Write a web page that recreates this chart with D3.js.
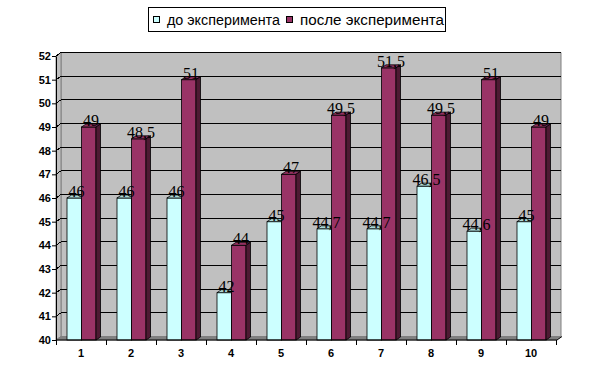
<!DOCTYPE html>
<html lang="ru">
<head>
<meta charset="utf-8">
<title>до / после эксперимента</title>
<script src="https://d3js.org/d3.v7.min.js"></script>
<style>
	body { margin: 0; padding: 0; background: #fff; }
	.tick-label { font-family: "Liberation Sans", Arial, sans-serif; font-weight: bold; font-size: 11px; fill: #000; }
	.val { font-family: "Liberation Serif", "Times New Roman", serif; font-size: 16px; fill: #000; }
	.legend-text { font-family: "Liberation Sans", Arial, sans-serif; font-size: 14px; fill: #000; }
</style>
</head>
<body>
<div id="chart"></div>
<script>
	// data
	var categories = ["1", "2", "3", "4", "5", "6", "7", "8", "9", "10"];
	var before = [46, 46, 46, 42, 45, 44.7, 44.7, 46.5, 44.6, 45];
	var after = [49, 48.5, 51, 44, 47, 49.5, 51.5, 49.5, 51, 49];
	var seriesNames = ["до эксперимента", "после эксперимента"];
	var yTicks = [40, 41, 42, 43, 44, 45, 46, 47, 48, 49, 50, 51, 52];

	// colors
	var colFront = ["#ccffff", "#993366"];
	var colTop = ["#a8d8d8", "#933163"];
	var colSide = ["#6a8c8c", "#4d1a33"];

	var W = 595, H = 384;
	var wallDx = 5, wallDy = -3.5;   // depth of the walls
	var barDx = 4.5, barDy = -3;     // depth of the bars

	var svg = d3.select("#chart").append("svg").attr("width", W).attr("height", H);

	var x = d3.scaleBand().domain(categories).range([56, 556]);
	var xs = d3.scaleBand().domain([0, 1]).range([11, 40]);
	var y = d3.scaleLinear().domain([40, 52]).range([340, 56]);

	var fmt = function (v) { return String(v).replace(".", ","); };

	// back wall
	var x0 = 56, x1 = 556, yb = y(40), yt = y(52);
	svg.append("polygon")
		.attr("points", [[x0 + wallDx, yt + wallDy], [x1 + wallDx, yt + wallDy], [x1 + wallDx, yb + wallDy], [x0 + wallDx, yb + wallDy]].join(" "))
		.attr("fill", "#c0c0c0").attr("stroke", "#808080");
	// side wall
	svg.append("polygon")
		.attr("points", [[x0, yt], [x0 + wallDx, yt + wallDy], [x0 + wallDx, yb + wallDy], [x0, yb]].join(" "))
		.attr("fill", "#c0c0c0").attr("stroke", "#808080");
	// floor
	svg.append("polygon")
		.attr("points", [[x0, yb], [x0 + wallDx, yb + wallDy], [x1 + wallDx, yb + wallDy], [x1, yb]].join(" "))
		.attr("fill", "#808080").attr("stroke", "#808080");

	// gridlines
	svg.append("g").selectAll("polyline").data(yTicks.slice(1)).enter().append("polyline")
		.attr("points", function (d) { return [[x0, y(d)], [x0 + wallDx, y(d) + wallDy], [x1 + wallDx, y(d) + wallDy]].join(" "); })
		.attr("fill", "none").attr("stroke", "#000").attr("stroke-width", 1).attr("shape-rendering", "crispEdges");

	// bars
	function bar(g, bx, bw, v, s) {
		var top = y(v), bot = y(40);
		g.append("rect").attr("x", bx).attr("y", top).attr("width", bw).attr("height", bot - top)
			.attr("fill", colFront[s]).attr("stroke", "#000").attr("stroke-width", 0.8);
		g.append("polygon")
			.attr("points", [[bx, top], [bx + barDx, top + barDy], [bx + bw + barDx, top + barDy], [bx + bw, top]].join(" "))
			.attr("fill", colTop[s]).attr("stroke", "#000").attr("stroke-width", 0.8);
		g.append("polygon")
			.attr("points", [[bx + bw, top], [bx + bw + barDx, top + barDy], [bx + bw + barDx, bot + barDy], [bx + bw, bot]].join(" "))
			.attr("fill", colSide[s]).attr("stroke", "#000").attr("stroke-width", 0.8);
	}

	var bars = svg.append("g");
	categories.forEach(function (c, i) {
		[before[i], after[i]].forEach(function (v, s) {
			bar(bars, x(c) + xs(s), xs.bandwidth(), v, s);
		});
	});

	// value labels
	var labels = svg.append("g");
	categories.forEach(function (c, i) {
		[before[i], after[i]].forEach(function (v, s) {
			labels.append("text").attr("class", "val")
				.attr("x", x(c) + xs(s) + xs.bandwidth() / 2 + barDx / 2)
				.attr("y", y(v) - 1)
				.attr("text-anchor", "middle")
				.text(fmt(v));
		});
	});

	// y axis
	var yAxis = svg.append("g").attr("transform", "translate(56,0)")
		.call(d3.axisLeft(y).tickValues(yTicks).tickSize(4).tickSizeOuter(0).tickPadding(1));
	yAxis.select(".domain").attr("stroke", "#000");
	yAxis.selectAll("text").attr("class", "tick-label").attr("font-size", null).attr("font-family", null);

	// x axis
	var xg = svg.append("g");
	xg.append("line").attr("x1", x0).attr("x2", x1 + 1).attr("y1", yb).attr("y2", yb).attr("stroke", "#000");
	xg.append("line").attr("x1", x1 + 1).attr("x2", x1 + wallDx + 1).attr("y1", yb).attr("y2", yb + wallDy).attr("stroke", "#000");
	xg.selectAll(".xt").data(categories.concat([null])).enter().append("line")
		.attr("x1", function (d) { return d === null ? x1 : x(d); })
		.attr("x2", function (d) { return d === null ? x1 : x(d); })
		.attr("y1", yb).attr("y2", yb + 5).attr("stroke", "#000").attr("shape-rendering", "crispEdges");
	xg.selectAll(".xl").data(categories).enter().append("text").attr("class", "tick-label")
		.attr("x", function (d) { return x(d) + x.bandwidth() / 2; })
		.attr("y", 357).attr("text-anchor", "middle").text(function (d) { return d; });

	// legend
	var lg = svg.append("g");
	lg.append("rect").attr("x", 148.5).attr("y", 7.5).attr("width", 297).attr("height", 24)
		.attr("fill", "#fff").attr("stroke", "#000");
	var legendX = [153, 286];
	var legendW = [113, 144];
	seriesNames.forEach(function (n, s) {
		lg.append("rect").attr("x", legendX[s] + 0.5).attr("y", 16.5).attr("width", 6).attr("height", 6)
			.attr("fill", colFront[s]).attr("stroke", "#000");
		lg.append("text").attr("class", "legend-text")
			.attr("x", legendX[s] + 14).attr("y", 24.5)
			.attr("textLength", legendW[s]).attr("lengthAdjust", "spacingAndGlyphs")
			.text(n);
	});
</script>
</body>
</html>
